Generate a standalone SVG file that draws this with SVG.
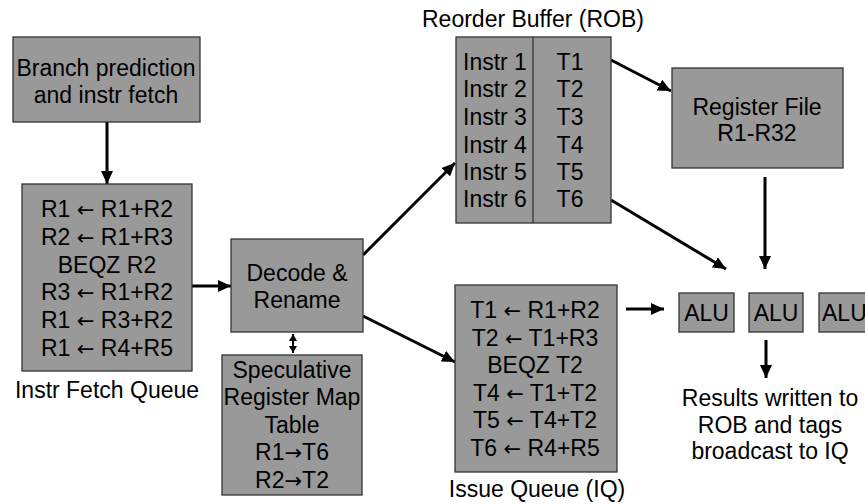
<svg xmlns="http://www.w3.org/2000/svg" width="865" height="504" viewBox="0 0 865 504">
<style>
  .box { fill: #999999; stroke: #333333; stroke-width: 1.3; }
  .t { font-family: "Liberation Sans", Arial, sans-serif; font-size: 23px; fill: #000000; text-anchor: middle; }
  .ts { font-family: "Liberation Sans", Arial, sans-serif; font-size: 23px; fill: #000000; text-anchor: start; }
  .ar { font-family: "DejaVu Sans", sans-serif; font-size: 21px; }
  .c { stroke: #000000; stroke-width: 3; fill: none; }
  .c2 { stroke: #000000; stroke-width: 2; fill: none; }
</style>
<defs>
  <marker id="ah" markerUnits="userSpaceOnUse" markerWidth="14" markerHeight="12" refX="13" refY="6" orient="auto">
    <path d="M0,0 L13,6 L0,12 z" fill="#000000"/>
  </marker>
  <marker id="ahs" markerUnits="userSpaceOnUse" markerWidth="8" markerHeight="8" refX="7" refY="4" orient="auto-start-reverse">
    <path d="M0,0 L7,4 L0,8 z" fill="#000000"/>
  </marker>
</defs>
<rect width="865" height="504" fill="#ffffff"/>

<g id="connectors">
  <line class="c" x1="107" y1="122" x2="107" y2="184" marker-end="url(#ah)"/>
  <line class="c" x1="192" y1="286" x2="231" y2="286" marker-end="url(#ah)"/>
  <line class="c2" x1="293" y1="334" x2="293" y2="353" marker-start="url(#ahs)" marker-end="url(#ahs)"/>
  <line class="c" x1="363" y1="255" x2="455" y2="163" marker-end="url(#ah)"/>
  <line class="c" x1="363" y1="316" x2="455" y2="362" marker-end="url(#ah)"/>
  <line class="c" x1="611" y1="60" x2="671" y2="91" marker-end="url(#ah)"/>
  <line class="c" x1="765" y1="177" x2="765" y2="269" marker-end="url(#ah)"/>
  <line class="c" x1="611" y1="200" x2="726" y2="269" marker-end="url(#ah)"/>
  <line class="c" x1="626" y1="309" x2="664" y2="309" marker-end="url(#ah)"/>
  <line class="c" x1="766" y1="340" x2="766" y2="378" marker-end="url(#ah)"/>
</g>

<g id="branch">
  <rect class="box" x="13" y="37" width="187" height="85"/>
  <text class="t" x="106" y="76">Branch prediction</text>
  <text class="t" x="106" y="103">and instr fetch</text>
</g>

<g id="ifq">
  <rect class="box" x="22" y="184" width="170" height="187"/>
  <text class="t" x="107" y="217">R1 <tspan class="ar">←</tspan> R1+R2</text>
  <text class="t" x="107" y="245">R2 <tspan class="ar">←</tspan> R1+R3</text>
  <text class="t" x="107" y="273">BEQZ R2</text>
  <text class="t" x="107" y="300">R3 <tspan class="ar">←</tspan> R1+R2</text>
  <text class="t" x="107" y="328">R1 <tspan class="ar">←</tspan> R3+R2</text>
  <text class="t" x="107" y="356">R1 <tspan class="ar">←</tspan> R4+R5</text>
  <text class="t" x="107" y="398">Instr Fetch Queue</text>
</g>

<g id="decode">
  <rect class="box" x="231" y="239" width="132" height="93"/>
  <text class="t" x="297" y="281">Decode &amp;</text>
  <text class="t" x="297" y="308">Rename</text>
</g>

<g id="srmt">
  <rect class="box" x="222" y="355" width="140" height="140"/>
  <text class="t" x="292" y="378">Speculative</text>
  <text class="t" x="292" y="405">Register Map</text>
  <text class="t" x="292" y="433">Table</text>
  <text class="t" x="292" y="460">R1<tspan class="ar">→</tspan>T6</text>
  <text class="t" x="292" y="488">R2<tspan class="ar">→</tspan>T2</text>
</g>

<g id="rob">
  <text class="t" x="533" y="27">Reorder Buffer (ROB)</text>
  <rect class="box" x="456" y="37" width="155" height="186"/>
  <line x1="533" y1="37" x2="533" y2="223" stroke="#333333" stroke-width="1.3"/>
  <text class="ts" x="463" y="70">Instr 1</text>
  <text class="ts" x="463" y="97">Instr 2</text>
  <text class="ts" x="463" y="125">Instr 3</text>
  <text class="ts" x="463" y="153">Instr 4</text>
  <text class="ts" x="463" y="180">Instr 5</text>
  <text class="ts" x="463" y="207">Instr 6</text>
  <text class="t" x="570" y="70">T1</text>
  <text class="t" x="570" y="97">T2</text>
  <text class="t" x="570" y="125">T3</text>
  <text class="t" x="570" y="153">T4</text>
  <text class="t" x="570" y="180">T5</text>
  <text class="t" x="570" y="207">T6</text>
</g>

<g id="regfile">
  <rect class="box" x="672" y="68" width="171" height="100"/>
  <text class="t" x="757" y="115">Register File</text>
  <text class="t" x="757" y="141">R1-R32</text>
</g>

<g id="iq">
  <rect class="box" x="455" y="285" width="162" height="187"/>
  <text class="t" x="535" y="318">T1 <tspan class="ar">←</tspan> R1+R2</text>
  <text class="t" x="535" y="346">T2 <tspan class="ar">←</tspan> T1+R3</text>
  <text class="t" x="535" y="373">BEQZ T2</text>
  <text class="t" x="535" y="401">T4 <tspan class="ar">←</tspan> T1+T2</text>
  <text class="t" x="535" y="428">T5 <tspan class="ar">←</tspan> T4+T2</text>
  <text class="t" x="535" y="456">T6 <tspan class="ar">←</tspan> R4+R5</text>
  <text class="t" x="537" y="497">Issue Queue (IQ)</text>
</g>

<g id="alu1">
  <rect class="box" x="679" y="293" width="55" height="39"/>
  <text class="t" x="706.5" y="321">ALU</text>
</g>
<g id="alu2">
  <rect class="box" x="749" y="293" width="54" height="39"/>
  <text class="t" x="776" y="321">ALU</text>
</g>
<g id="alu3">
  <rect class="box" x="819" y="293" width="55" height="39"/>
  <text class="ts" x="822" y="321">ALU</text>
</g>

<g id="results">
  <text class="t" x="770" y="406">Results written to</text>
  <text class="t" x="770" y="433">ROB and tags</text>
  <text class="t" x="770" y="459">broadcast to IQ</text>
</g>
</svg>
